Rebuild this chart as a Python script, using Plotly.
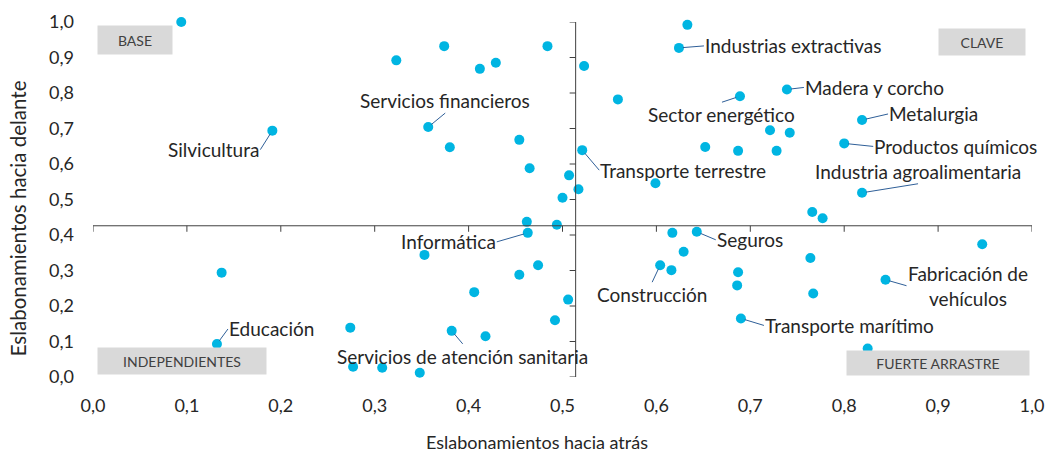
import plotly.graph_objects as go

# ---- data ----
backward = [0.094, 0.374, 0.323, 0.412, 0.429, 0.484, 0.357, 0.380, 0.454, 0.465,
            0.507, 0.500, 0.191, 0.633, 0.624, 0.523, 0.559, 0.689, 0.739, 0.721,
            0.742, 0.652, 0.687, 0.728, 0.521, 0.517, 0.599, 0.819, 0.800, 0.819,
            0.766, 0.777, 0.947, 0.764, 0.844, 0.767, 0.825, 0.617, 0.643, 0.629,
            0.604, 0.616, 0.687, 0.686, 0.690, 0.506, 0.462, 0.494, 0.463, 0.353,
            0.474, 0.454, 0.406, 0.492, 0.274, 0.382, 0.418, 0.277, 0.308, 0.348,
            0.137, 0.132]
forward = [1.000, 0.932, 0.892, 0.868, 0.885, 0.932, 0.704, 0.647, 0.668, 0.588,
           0.568, 0.505, 0.694, 0.992, 0.927, 0.876, 0.782, 0.791, 0.810, 0.695,
           0.688, 0.648, 0.637, 0.637, 0.639, 0.529, 0.546, 0.724, 0.658, 0.519,
           0.465, 0.447, 0.374, 0.335, 0.274, 0.235, 0.080, 0.406, 0.409, 0.353,
           0.315, 0.301, 0.295, 0.258, 0.165, 0.218, 0.437, 0.429, 0.406, 0.344,
           0.315, 0.288, 0.239, 0.160, 0.139, 0.130, 0.115, 0.029, 0.026, 0.012,
           0.294, 0.093]
sectors = ["", "", "", "", "", "", "Servicios financieros", "", "", "",
           "", "", "Silvicultura", "", "Industrias extractivas", "", "", "Sector energético", "Madera y corcho", "",
           "", "", "", "", "Transporte terrestre", "", "", "Metalurgia", "Productos químicos", "Industria agroalimentaria",
           "", "", "", "", "Fabricación de<br>vehículos", "", "", "", "Seguros", "",
           "Construcción", "", "", "", "Transporte marítimo", "", "", "", "Informática", "",
           "", "", "", "", "", "Servicios de atención sanitaria", "", "", "", "",
           "", "Educación"]
cross_x = 0.514   # vertical axis crossing (backward)
cross_y = 0.426   # horizontal axis crossing (forward)
tick_values = [i / 10 for i in range(11)]
quadrants = ["BASE", "CLAVE", "INDEPENDIENTES", "FUERTE ARRASTRE"]
x_title = "Eslabonamientos hacia atrás"
y_title = "Eslabonamientos hacia delante"

# ---- styling / placement (pixel offsets of label tails) ----
label_pos = {
    "Silvicultura": dict(ax=-12, ay=19, xanchor="right", yanchor="middle"),
    "Servicios financieros": dict(ax=17, ay=-14, xanchor="center", yanchor="bottom"),
    "Industrias extractivas": dict(ax=25, ay=-2, xanchor="left", yanchor="middle"),
    "Sector energético": dict(ax=-18, ay=6, xanchor="center", yanchor="top"),
    "Madera y corcho": dict(ax=17, ay=-2, xanchor="left", yanchor="middle"),
    "Metalurgia": dict(ax=26, ay=-6, xanchor="left", yanchor="middle"),
    "Productos químicos": dict(ax=29, ay=3, xanchor="left", yanchor="middle"),
    "Industria agroalimentaria": dict(ax=56, ay=-9, xanchor="center", yanchor="bottom"),
    "Transporte terrestre": dict(ax=17, ay=20, xanchor="left", yanchor="middle"),
    "Informática": dict(ax=-31, ay=9, xanchor="right", yanchor="middle"),
    "Seguros": dict(ax=19, ay=8, xanchor="left", yanchor="middle"),
    "Construcción": dict(ax=-8, ay=17, xanchor="center", yanchor="top"),
    "Transporte marítimo": dict(ax=23, ay=7, xanchor="left", yanchor="middle"),
    "Fabricación de<br>vehículos": dict(ax=21, ay=6, xanchor="left", yanchor="middle"),
    "Servicios de atención sanitaria": dict(ax=11, ay=13, xanchor="center", yanchor="top"),
    "Educación": dict(ax=11, ay=-15, xanchor="left", yanchor="middle"),
}
quad_pos = {
    "BASE": dict(x=0.045, y=0.949, w=74, h=28),
    "CLAVE": dict(x=0.947, y=0.944, w=86, h=26),
    "INDEPENDIENTES": dict(x=0.095, y=0.045, w=168, h=26),
    "FUERTE ARRASTRE": dict(x=0.900, y=0.039, w=182, h=24),
}

FONT = "Lato"
DOT = "#00B5E2"
LEAD = "#2F5F98"
AXC = "#404040"
TXT = "#262626"

fig = go.Figure()
fig.add_trace(go.Scatter(
    x=backward, y=forward, mode="markers",
    marker=dict(size=10, color=DOT),
    cliponaxis=False, hoverinfo="skip", showlegend=False))

# crossing axes
shapes = [
    dict(type="line", xref="x", yref="y", x0=0, x1=1, y0=cross_y, y1=cross_y,
         line=dict(color=AXC, width=1)),
    dict(type="line", xref="x", yref="y", x0=cross_x, x1=cross_x, y0=0, y1=1,
         line=dict(color=AXC, width=1)),
]
for t in tick_values:
    shapes.append(dict(type="line", xref="x", yref="y", x0=t, x1=t,
                       ysizemode="pixel", yanchor=cross_y, y0=0, y1=-6,
                       line=dict(color=AXC, width=1)))
    shapes.append(dict(type="line", xref="x", yref="y", y0=t, y1=t,
                       xsizemode="pixel", xanchor=cross_x, x0=0, x1=-6,
                       line=dict(color=AXC, width=1)))

annotations = []
for xv, yv, name in zip(backward, forward, sectors):
    if not name:
        continue
    p = label_pos[name]
    annotations.append(dict(
        x=xv, y=yv, xref="x", yref="y", text=name, showarrow=True,
        arrowhead=0, arrowwidth=1, arrowcolor=LEAD, standoff=4,
        ax=p["ax"], ay=p["ay"], xanchor=p["xanchor"], yanchor=p["yanchor"],
        align="center", borderpad=0,
        font=dict(family=FONT, size=19, color=TXT)))

for q in quadrants:
    p = quad_pos[q]
    annotations.append(dict(
        x=p["x"], y=p["y"], xref="x", yref="y", text=q, showarrow=False,
        bgcolor="#D9D9D9", width=p["w"], height=p["h"], borderpad=0,
        font=dict(family=FONT, size=14, color="#404040")))

# axis titles (placed as annotations to match the reference offsets)
annotations.append(dict(
    x=0.473, y=0, xref="paper", yref="paper", yshift=-65, text=x_title,
    showarrow=False, xanchor="center", yanchor="middle",
    font=dict(family=FONT, size=18, color=TXT)))
annotations.append(dict(
    x=0, y=0.447, xref="paper", yref="paper", xshift=-75, text=y_title,
    textangle=-90, showarrow=False, xanchor="center", yanchor="middle",
    font=dict(family=FONT, size=20.5, color=TXT)))

fig.update_layout(
    width=1050, height=452,
    margin=dict(l=93, r=18, t=22, b=75),
    paper_bgcolor="white", plot_bgcolor="white",
    separators=",.",
    font=dict(family=FONT, color=TXT),
    shapes=shapes, annotations=annotations,
    xaxis=dict(range=[0, 1], tickvals=tick_values, tickformat=".1f",
               showgrid=False, zeroline=False, showline=False, ticks="",
               automargin=False, ticklabelstandoff=16, fixedrange=True,
               tickfont=dict(family=FONT, size=18, color=TXT)),
    yaxis=dict(range=[0, 1], tickvals=tick_values, tickformat=".1f",
               showgrid=False, zeroline=False, showline=False, ticks="",
               automargin=False, ticklabelstandoff=18, fixedrange=True,
               tickfont=dict(family=FONT, size=18, color=TXT)),
)

fig.write_html("out.html", config={"displayModeBar": False},
               post_script="document.body.style.margin='0';")
